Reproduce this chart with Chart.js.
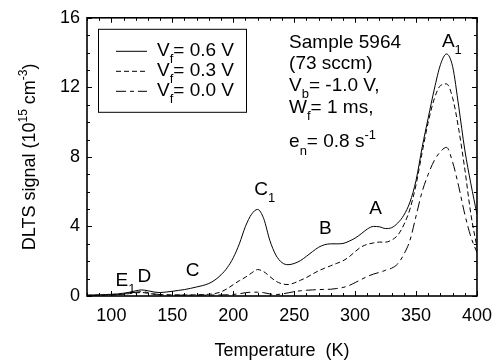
<!DOCTYPE html>
<html>
<head>
<meta charset="utf-8">
<script src="https://cdn.jsdelivr.net/npm/chart.js@4.4.0/dist/chart.umd.min.js"></script>
<style>
  html, body { margin: 0; padding: 0; background: #fff; }
  canvas { display: block; }
</style>
</head>
<body>
<canvas id="chart" width="501" height="364"></canvas>
<script>
// temperature (K)
const temps = [80, 85, 90, 95, 100, 105, 110, 115, 120, 125, 130, 135, 140, 145, 150, 155, 160, 165, 170, 175,
  180, 185, 190, 195, 200, 205, 210, 215, 220, 225, 230, 235, 240, 245, 250, 255, 260, 265, 270, 275,
  280, 285, 290, 295, 300, 305, 310, 315, 320, 325, 330, 335, 340, 345, 350, 355, 360, 365, 370, 375,
  380, 385, 390, 395, 400];

// DLTS signal (10^15 cm^-3)
const vf06 = [0.05, 0.06, 0.07, 0.08, 0.10, 0.12, 0.16, 0.22, 0.30, 0.35, 0.30, 0.23, 0.20, 0.23, 0.27, 0.32, 0.37, 0.44, 0.52, 0.60,
  0.72, 0.92, 1.22, 1.62, 2.20, 3.00, 4.00, 4.70, 4.98, 4.45, 3.20, 2.35, 1.92, 1.80, 1.87, 2.03, 2.28, 2.55, 2.80, 2.95,
  3.00, 3.00, 3.02, 3.15, 3.33, 3.58, 3.85, 4.00, 3.98, 3.88, 3.93, 4.20, 4.65, 5.40, 6.65, 8.55, 10.25, 11.90, 13.30, 13.92,
  13.20, 10.90, 8.40, 6.45, 4.70];
const vf03 = [0.04, 0.04, 0.05, 0.05, 0.06, 0.08, 0.10, 0.14, 0.18, 0.20, 0.16, 0.10, 0.07, 0.06, 0.06, 0.06, 0.06, 0.06, 0.07, 0.08,
  0.10, 0.14, 0.24, 0.42, 0.65, 0.88, 1.08, 1.32, 1.52, 1.40, 1.12, 0.85, 0.70, 0.66, 0.75, 0.90, 1.06, 1.26, 1.45, 1.60,
  1.74, 1.88, 2.02, 2.25, 2.55, 2.82, 2.97, 3.05, 3.10, 3.10, 3.22, 3.50, 4.10, 5.00, 6.40, 8.25, 10.00, 11.35, 12.10, 12.20,
  11.40, 9.60, 7.30, 4.70, 2.80];
const vf00 = [0.03, 0.03, 0.04, 0.05, 0.06, 0.08, 0.11, 0.16, 0.22, 0.25, 0.20, 0.12, 0.08, 0.06, 0.05, 0.05, 0.05, 0.05, 0.05, 0.05,
  0.05, 0.06, 0.06, 0.07, 0.09, 0.13, 0.19, 0.22, 0.22, 0.19, 0.12, 0.08, 0.12, 0.18, 0.25, 0.30, 0.33, 0.35, 0.37, 0.38,
  0.39, 0.43, 0.49, 0.60, 0.77, 0.95, 1.12, 1.26, 1.36, 1.48, 1.60, 1.85, 2.40, 3.20, 4.60, 6.00, 7.00, 7.80, 8.30, 8.55,
  7.70, 6.30, 4.70, 3.40, 2.50];

const seriesLabels = ['0.6 V', '0.3 V', '0.0 V'];
const xTicks = [100, 150, 200, 250, 300, 350, 400];
const yTicks = [0, 4, 8, 12, 16];

const FONT = '"Liberation Sans", Arial, sans-serif';

// text with sub/superscripts, parts = [[text, mode]], y is baseline
function richText(ctx, parts, x, y, size, align) {
  const small = Math.round(size * 0.68);
  let w = 0;
  parts.forEach(([s, m]) => {
    ctx.font = (m ? small : size) + 'px ' + FONT;
    w += ctx.measureText(s).width;
  });
  let cx = align === 'center' ? x - w / 2 : x;
  ctx.textAlign = 'left';
  ctx.textBaseline = 'alphabetic';
  parts.forEach(([s, m]) => {
    ctx.font = (m ? small : size) + 'px ' + FONT;
    const dy = m === 'sub' ? size * 0.38 : m === 'sup' ? -size * 0.42 : 0;
    ctx.fillText(s, cx, y + dy);
    cx += ctx.measureText(s).width;
  });
}

const dashes = [[], [5, 3], [10, 4, 4, 4]];

const decorations = {
  id: 'decorations',
  afterDatasetsDraw(chart) {
    const { ctx, chartArea: a, scales: { x, y } } = chart;
    ctx.save();
    ctx.fillStyle = '#000';
    ctx.strokeStyle = '#000';

    // frame
    ctx.lineWidth = 1.6;
    ctx.strokeRect(a.left, a.top, a.right - a.left, a.bottom - a.top);

    // inward ticks
    ctx.lineWidth = 1;
    ctx.beginPath();
    for (let t = 80; t <= 400; t += 10) {
      const px = Math.round(x.getPixelForValue(t)) + 0.5;
      const len = xTicks.includes(t) ? 5 : 3;
      ctx.moveTo(px, a.bottom); ctx.lineTo(px, a.bottom - len);
      ctx.moveTo(px, a.top); ctx.lineTo(px, a.top + len);
    }
    for (let v = 0; v <= 16; v += 1) {
      const py = Math.round(y.getPixelForValue(v)) + 0.5;
      const len = yTicks.includes(v) ? 5 : 3;
      ctx.moveTo(a.left, py); ctx.lineTo(a.left + len, py);
      ctx.moveTo(a.right, py); ctx.lineTo(a.right - len, py);
    }
    ctx.stroke();

    // legend
    const lx = a.left + 11, ly = a.top + 11;
    ctx.lineWidth = 1;
    ctx.strokeRect(lx + 0.5, ly + 0.5, 148, 83);
    chart.data.datasets.forEach((ds, i) => {
      const yy = ly + 22 + i * 20;
      ctx.setLineDash(dashes[i]);
      ctx.beginPath();
      ctx.moveTo(lx + 18, yy + 0.5);
      ctx.lineTo(lx + 49, yy + 0.5);
      ctx.stroke();
      ctx.setLineDash([]);
      richText(ctx, [['V', ''], ['f', 'sub'], ['= ' + seriesLabels[i], '']], lx + 59, yy + 5, 19);
    });

    // sample info
    const ix = x.getPixelForValue(245.8);
    richText(ctx, [['Sample 5964', '']], ix, y.getPixelForValue(14.68) + 7, 19);
    richText(ctx, [['(73 sccm)', '']], ix, y.getPixelForValue(13.48) + 7, 19);
    richText(ctx, [['V', ''], ['b', 'sub'], ['= -1.0 V,', '']], ix, y.getPixelForValue(12.2) + 7, 19);
    richText(ctx, [['W', ''], ['f', 'sub'], ['= 1 ms,', '']], ix, y.getPixelForValue(10.95) + 7, 19);
    richText(ctx, [['e', ''], ['n', 'sub'], ['= 0.8 s', ''], ['-1', 'sup']], ix, y.getPixelForValue(8.95) + 7, 19);

    // peak labels
    const peak = (parts, t, v) => richText(ctx, parts, x.getPixelForValue(t), y.getPixelForValue(v) + 7, 19);
    peak([['A', ''], ['1', 'sub']], 371.2, 14.74);
    peak([['C', ''], ['1', 'sub']], 217.3, 6.22);
    peak([['B', '']], 270.3, 3.96);
    peak([['A', '']], 311.5, 5.10);
    peak([['C', '']], 161.0, 1.58);
    peak([['D', '']], 121.5, 1.20);
    peak([['E', ''], ['1', 'sub']], 103.4, 0.97);

    // y title
    ctx.translate(28, (a.top + a.bottom) / 2);
    ctx.rotate(-Math.PI / 2);
    richText(ctx, [['DLTS signal (10', ''], ['15', 'sup'], [' cm', ''], ['-3', 'sup'], [')', '']], 0, 7, 18, 'center');
    ctx.restore();
  }
};

const series = [vf06, vf03, vf00];

new Chart(document.getElementById('chart'), {
  type: 'line',
  data: {
    datasets: series.map((vals, i) => ({
      label: seriesLabels[i],
      data: temps.map((t, k) => ({ x: t, y: vals[k] })),
      borderColor: '#000',
      borderWidth: 1,
      borderDash: dashes[i],
      pointRadius: 0,
      fill: false,
      cubicInterpolationMode: 'monotone'
    }))
  },
  options: {
    responsive: false,
    animation: false,
    layout: { padding: { top: 17, right: 19, left: 0, bottom: 0 } },
    plugins: { legend: { display: false }, tooltip: { enabled: false } },
    scales: {
      x: {
        type: 'linear',
        min: 80,
        max: 400,
        afterBuildTicks: s => { s.ticks = xTicks.map(v => ({ value: v })); },
        afterFit: s => { s.height = 68; },
        grid: { display: false, drawTicks: false },
        border: { display: false },
        ticks: { color: '#000', font: { family: FONT, size: 18 }, padding: 9 },
        title: { display: true, text: 'Temperature  (K)', color: '#000', font: { family: FONT, size: 18 }, padding: { top: 0, bottom: 2 } }
      },
      y: {
        min: 0,
        max: 16,
        afterBuildTicks: s => { s.ticks = yTicks.map(v => ({ value: v })); },
        afterFit: s => { s.width = 87; },
        grid: { display: false, drawTicks: false },
        border: { display: false },
        ticks: { color: '#000', font: { family: FONT, size: 18 }, padding: 7 }
      }
    }
  },
  plugins: [decorations]
});
</script>
</body>
</html>
